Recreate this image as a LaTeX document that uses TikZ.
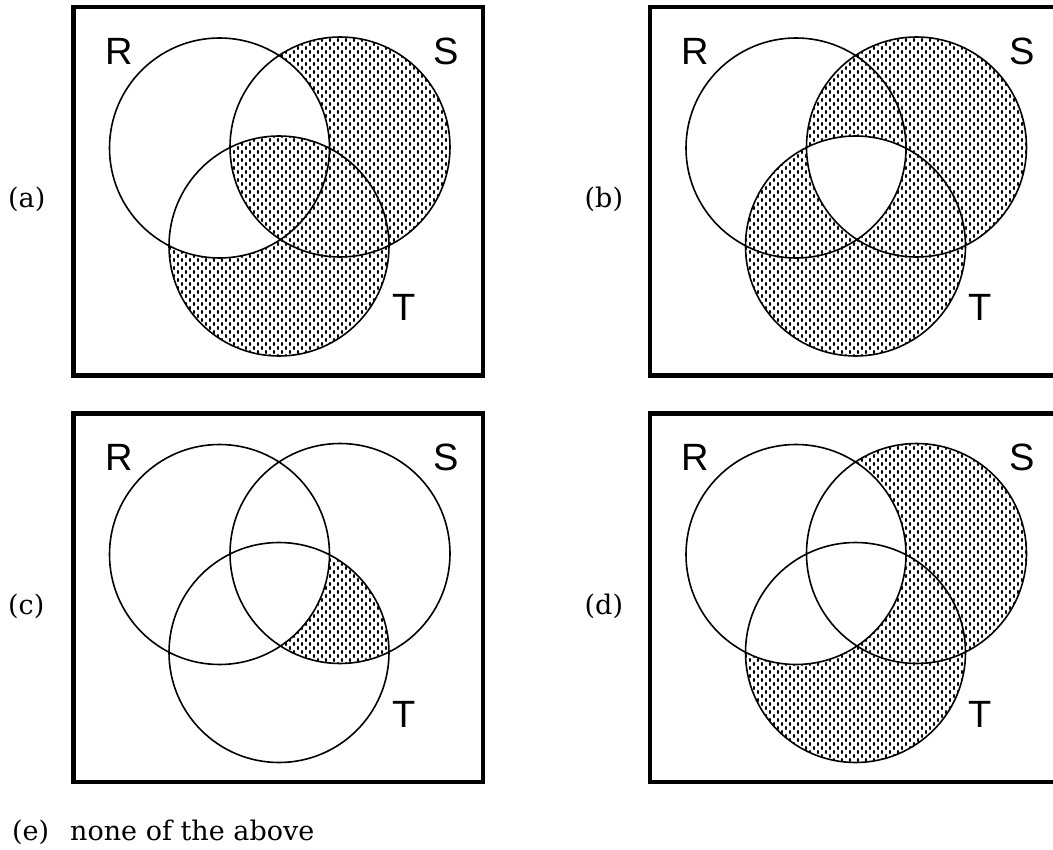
\documentclass[tikz,border=0pt]{standalone}
\usepackage{fontspec}
\newfontfamily\labfont{Liberation Sans}
\newfontfamily\optfont{DejaVu Serif}
\usetikzlibrary{patterns}
\pgfdeclarepatternformonly{vdots}{\pgfqpoint{-1pt}{-1pt}}{\pgfqpoint{9pt}{9pt}}{\pgfqpoint{8pt}{8pt}}{%
  \pgfpathellipse{\pgfqpoint{2pt}{2pt}}{\pgfqpoint{1.1pt}{0pt}}{\pgfqpoint{0pt}{2pt}}%
  \pgfpathellipse{\pgfqpoint{6pt}{6pt}}{\pgfqpoint{1.1pt}{0pt}}{\pgfqpoint{0pt}{2pt}}%
  \pgfusepath{fill}}
\tikzset{
  venn/.style={line width=1.6pt},
  frame/.style={line width=4.5pt},
  shade/.style={pattern=vdots, pattern color=black},
  setlab/.style={font=\labfont\fontsize{38}{40}\selectfont, inner sep=0pt},
  optlab/.style={font=\optfont\fontsize{27}{32}\selectfont, inner sep=0pt, anchor=base west},
}
\newcommand\vennpanel[4]{%
\begin{scope}[shift={(#2,#3)}]
  \coordinate (R#1) at (219.5,148);
  \coordinate (S#1) at (340,147);
  \coordinate (T#1) at (279,246);
  #4
  \draw[venn] (R#1) circle[radius=110pt] (S#1) circle[radius=110pt] (T#1) circle[radius=110pt];
  \draw[frame] (73.5,7) rectangle (483,375.5);
  \node[setlab] (lR#1) at (119,51) {R};
  \node[setlab] (lS#1) at (446,51) {S};
  \node[setlab] (lT#1) at (404,307.5) {T};
  \node[optlab] (opt#1) at (8,208) {(#1)};
\end{scope}}
\begin{document}
\begin{tikzpicture}[x=1pt,y=-1pt]
\useasboundingbox[fill=white] (0,0) rectangle (1053,850);

\vennpanel{a}{0}{0}{%
  \fill[shade] (Sa) circle[radius=110pt] (Ta) circle[radius=110pt];
  \fill[white] (Ra) circle[radius=110pt];
  \begin{scope}
    \clip (Sa) circle[radius=110pt];
    \clip (Ta) circle[radius=110pt];
    \fill[shade] (Ra) circle[radius=110pt];
  \end{scope}}

\vennpanel{b}{576.5}{0}{%
  \fill[shade] (Sb) circle[radius=110pt] (Tb) circle[radius=110pt];
  \begin{scope}
    \clip (Rb) circle[radius=110pt];
    \clip (Sb) circle[radius=110pt];
    \fill[white] (Tb) circle[radius=110pt];
  \end{scope}}

\vennpanel{c}{0}{406.5}{%
  \begin{scope}
    \clip (Sc) circle[radius=110pt];
    \fill[shade] (Tc) circle[radius=110pt];
  \end{scope}
  \fill[white] (Rc) circle[radius=110pt];}

\vennpanel{d}{576.5}{406.5}{%
  \fill[shade] (Sd) circle[radius=110pt] (Td) circle[radius=110pt];
  \fill[white] (Rd) circle[radius=110pt];}

\node[optlab] (opte) at (12,840) {(e)};
\node[optlab] (none) at (70,840) {none of the above};
\end{tikzpicture}
\end{document}
